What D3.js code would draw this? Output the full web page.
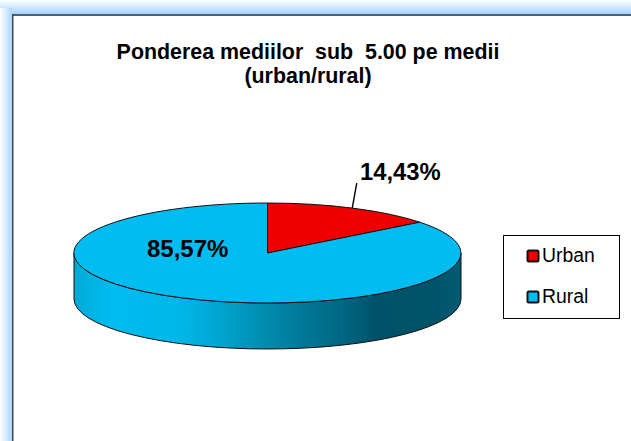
<!DOCTYPE html>
<html><head><meta charset="utf-8">
<script src="https://cdn.jsdelivr.net/npm/d3@7"></script>
<style>html,body{margin:0;padding:0;background:#fff;overflow:hidden}svg{display:block}text{font-family:"Liberation Sans",Arial,sans-serif;fill:#000}</style>
</head><body><svg id="c" width="631" height="441"></svg>
<script>
const categories = ["Urban", "Rural"];
const values = [14.43, 85.57];
const labels = ["14,43%", "85,57%"];
const colors = ["#ee0000", "#00bcf0"];
const titleLines = ["Ponderea mediilor  sub  5.00 pe medii", "(urban/rural)"];

const svg = d3.select("#c");
const defs = svg.append("defs");
function grad(id, x1, y1, x2, y2, stops){
  const g = defs.append("linearGradient").attr("id", id).attr("x1", x1).attr("y1", y1).attr("x2", x2).attr("y2", y2);
  stops.forEach(s => g.append("stop").attr("offset", s[0]).attr("stop-color", s[1]));
}
grad("bandT", 0, 0, 0, 1, [[0, "#ffffff"], [1, "#a3d3ff"]]);
grad("bandL", 0, 0, 1, 0, [[0, "#ffffff"], [1, "#a9d6ff"]]);
grad("wall", 0, 0, 1, 0, [[0, "#00a8d6"], [0.05, "#00b4e4"], [0.1, "#00bcf0"], [0.28, "#00b6e8"], [0.4, "#00a0c8"], [0.57, "#007c9c"], [0.7, "#006680"], [0.78, "#00526a"], [0.9, "#005268"], [1, "#005a72"]]);

// frame
svg.append("rect").attr("width", 631).attr("height", 14).attr("fill", "url(#bandT)");
svg.append("rect").attr("y", 8).attr("width", 12).attr("height", 433).attr("fill", "url(#bandL)");
svg.append("rect").attr("x", 12).attr("y", 14).attr("width", 619).attr("height", 2).attr("fill", "#4d5f70");
svg.append("rect").attr("x", 12).attr("y", 14).attr("width", 1.5).attr("height", 427).attr("fill", "#3f4a55");

// title
svg.selectAll(".title").data(titleLines).join("text").attr("class", "title")
  .attr("xml:space", "preserve").style("white-space", "pre")
  .attr("x", 308).attr("y", (d, i) => 59 + i * 24)
  .attr("text-anchor", "middle").attr("font-size", 21.4).attr("font-weight", "bold").text(d => d);

// pie geometry
const cx = 267.5, cy = 253, rx = 193.5, ry = 50, depth = 46;
const pie = d3.pie().sort(null).value(d => d)(values);
const arc = d3.arc().innerRadius(0).outerRadius(1);
const g = svg.append("g").attr("transform", `translate(${cx},${cy})`);

// side wall (front half of the rim)
g.append("path")
  .attr("d", `M${-rx},0 A${rx},${ry} 0 0 0 ${rx},0 L${rx},${depth} A${rx},${ry} 0 0 1 ${-rx},${depth} Z`)
  .attr("fill", "url(#wall)").attr("stroke", "#111").attr("stroke-width", 1);

// top face
g.append("g").attr("transform", `scale(${rx},${ry})`).selectAll("path").data(pie).join("path")
  .attr("d", arc).attr("fill", (d, i) => colors[i])
  .attr("stroke", "#111").attr("stroke-width", 1).attr("vector-effect", "non-scaling-stroke");

// data labels
const urbanMid = (pie[0].startAngle + pie[0].endAngle) / 2;
const ux = cx + rx * Math.sin(urbanMid), uy = cy - ry * Math.cos(urbanMid);
svg.append("line").attr("x1", ux).attr("y1", uy).attr("x2", ux + 4.5).attr("y2", uy - 25)
  .attr("stroke", "#000").attr("stroke-width", 1.4);
svg.append("text").attr("x", 360).attr("y", 180).attr("font-size", 23.8).attr("font-weight", "bold").text(labels[0]);
svg.append("text").attr("x", 147).attr("y", 257).attr("font-size", 24).attr("font-weight", "bold").text(labels[1]);

// legend
svg.append("rect").attr("x", 503.5).attr("y", 235.5).attr("width", 116).attr("height", 83)
  .attr("fill", "#fff").attr("stroke", "#000").attr("stroke-width", 1);
const ly = d3.scalePoint().domain(categories).range([256, 297]);
const leg = svg.selectAll(".leg").data(categories).join("g").attr("class", "leg")
  .attr("transform", d => `translate(0,${ly(d)})`);
leg.append("rect").attr("x", 527.5).attr("y", -5.5).attr("width", 11).attr("height", 11).attr("rx", 1.5)
  .attr("fill", (d, i) => colors[i]).attr("stroke", "#111").attr("stroke-width", 2);
leg.append("text").attr("x", 542).attr("y", 6).attr("font-size", 19.4).attr("fill", "#111").text(d => d);
</script></body></html>
